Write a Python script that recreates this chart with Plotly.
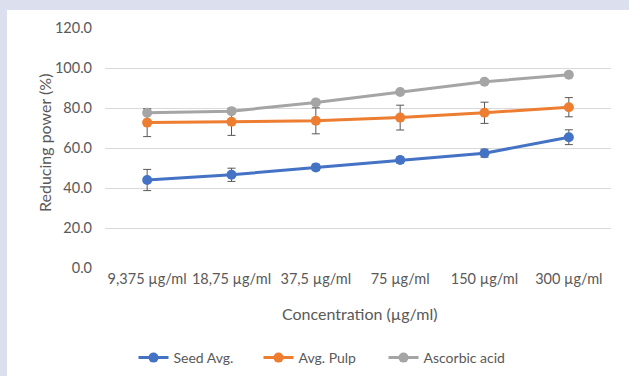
import plotly.graph_objects as go

categories = ["9,375 µg/ml", "18,75 µg/ml", "37,5 µg/ml", "75 µg/ml", "150 µg/ml", "300 µg/ml"]
seed_avg = [44.0, 46.6, 50.3, 54.0, 57.4, 65.4]
seed_err = [5.3, 3.3, 1.6, 1.5, 2.0, 3.7]
pulp_avg = [72.7, 73.1, 73.6, 75.2, 77.6, 80.4]
pulp_err = [7.0, 6.8, 6.5, 6.2, 5.3, 4.8]
ascorbic = [77.6, 78.4, 82.8, 88.0, 93.1, 96.6]
y_ticks = [0, 20, 40, 60, 80, 100, 120]

W, H = 629, 376
L, R, T, B = 105, 18, 28, 108
pw, ph = W - L - R, H - T - B

def px(x):
    return (x - L) / pw

def py(y):
    return (H - B - y) / ph

fig = go.Figure()
series = [
    ("Seed Avg.", seed_avg, seed_err, "#4472C4"),
    ("Avg. Pulp", pulp_avg, pulp_err, "#ED7D31"),
    ("Ascorbic acid", ascorbic, None, "#A5A5A5"),
]
for name, vals, err, col in series:
    fig.add_trace(go.Scatter(
        x=categories, y=vals, name=name, mode="lines+markers",
        line=dict(color=col, width=3),
        marker=dict(color=col, size=10),
        error_y=dict(type="data", array=err, visible=err is not None,
                     color="#595959", thickness=1, width=4),
    ))

font = "Lato, 'Open Sans', sans-serif"
fig.update_layout(
    width=W, height=H, autosize=False,
    margin=dict(l=L, r=R, t=T, b=B, autoexpand=False),
    paper_bgcolor="white", plot_bgcolor="white",
    font=dict(family=font, size=14.5, color="#595959"),
    showlegend=True,
    legend=dict(orientation="h", x=px(321), xanchor="center", y=py(358), yanchor="middle",
                font=dict(size=14, color="#595959"), itemwidth=30, tracegroupgap=0,
                entrywidth=80, entrywidthmode="pixels"),
    xaxis=dict(showgrid=False, showline=False, ticks="", tickfont=dict(size=14.5),
               range=[-0.5, 5.5], automargin=False),
    yaxis=dict(range=[0, 120], tickvals=y_ticks, tickformat=".1f", showgrid=True,
               gridcolor="#D9D9D9", gridwidth=1, zeroline=False, showline=False,
               tickfont=dict(size=14.5), ticklabelstandoff=12, automargin=False),
    shapes=[
        dict(type="rect", xref="paper", yref="paper", x0=px(0), x1=px(W), y0=py(10), y1=py(0),
             fillcolor="#DCE0EE", line=dict(width=0), layer="above"),
        dict(type="rect", xref="paper", yref="paper", x0=px(0), x1=px(7), y0=py(H), y1=py(0),
             fillcolor="#DCE0EE", line=dict(width=0), layer="above"),
    ],
    annotations=[
        dict(text="Concentration (µg/ml)", xref="paper", yref="paper", x=px(360), y=py(313),
             showarrow=False, font=dict(size=16, color="#595959"), xanchor="center", yanchor="middle"),
        dict(text="Reducing power (%)", xref="paper", yref="paper", x=px(44), y=py(143),
             showarrow=False, textangle=-90, font=dict(size=16, color="#595959"),
             xanchor="center", yanchor="middle"),
    ],
)

fig.write_html("out.html", config={"displayModeBar": False},
               post_script="document.body.style.margin='0';document.body.style.padding='0';document.body.style.overflow='hidden';")
